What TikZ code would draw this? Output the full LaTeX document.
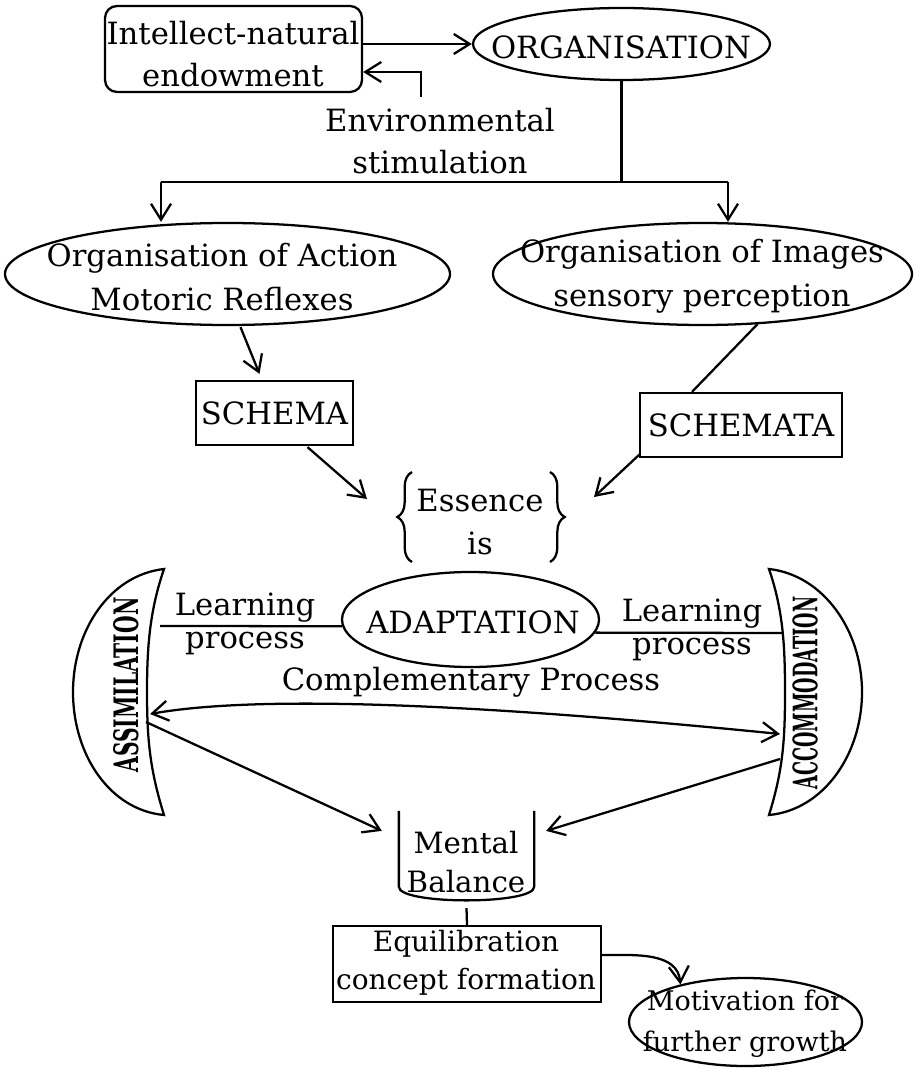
\documentclass[tikz,border=0pt]{standalone}
\usepackage{fontspec}
\setmainfont{DejaVu Serif}
\usepackage{graphicx}
\usetikzlibrary{arrows.meta,shapes.geometric,calc,decorations.pathreplacing}

\begin{document}
\begin{tikzpicture}[x=0.75pt,y=-0.75pt,
  line width=1.7pt,
  tip/.tip={Straight Barb[length=12pt,width=15pt]},
  arr/.style={-tip},
  darr/.style={tip-tip},
  txt/.style={align=center,inner sep=0pt,font=\fontsize{23}{31}\selectfont},
  small/.style={align=center,inner sep=0pt,font=\fontsize{20.3}{30.5}\selectfont},
  ell/.style={draw,ellipse,inner sep=0pt},
  box/.style={draw,rectangle,inner sep=0pt},
  side/.style={inner sep=0pt,rotate=90},
]
\useasboundingbox (0,0) rectangle (915,1069);

% ---- shapes ----
\node[box,rounded corners=9pt,minimum width=192.75pt,minimum height=64.5pt] (intel) at (233.5,49) {};
\node[ell,minimum width=222.75pt,minimum height=54pt] (org) at (621.5,44) {};
\node[ell,minimum width=333.75pt,minimum height=76.5pt] (orgA) at (227.5,274) {};
\node[ell,minimum width=314.25pt,minimum height=76.5pt] (orgI) at (702.5,274) {};
\node[box,minimum width=117.75pt,minimum height=48pt] (schema) at (274.5,413) {};
\node[box,minimum width=151.5pt,minimum height=48pt] (schemata) at (741,425) {};
\node[ell,minimum width=192.75pt,minimum height=71.25pt] (adapt) at (470.5,619.5) {};
\node[box,minimum width=201pt,minimum height=57pt] (equil) at (467,964) {};
\node[ell,minimum width=174.75pt,minimum height=66pt] (motiv) at (745.5,1022) {};
\node[inner sep=0pt,minimum width=99.75pt,minimum height=66pt] (mental) at (466.5,856) {};

% ---- texts ----
\node[txt] (inteltxt) at (233,54) {Intellect-natural\\endowment};
\node[txt,font=\fontsize{23}{32}\selectfont] (env) at (440,141) {Environmental\\stimulation};
\node[txt] (orgtxt) at (621,47) {ORGANISATION};
\node[txt,font=\fontsize{23}{33.5}\selectfont] (orgAtxt) at (222,277) {Organisation of Action\\Motoric Reflexes};
\node[txt,font=\fontsize{23}{33}\selectfont] (orgItxt) at (702,276) {Organisation of Images\\sensory perception};
\node[txt] (schematxt) at (schema) {SCHEMA};
\node[txt] (schematatxt) at (schemata) {SCHEMATA};
\node[txt,font=\fontsize{23}{32}\selectfont] (ess) at (480,522) {Essence\\is};
\node[txt] (adapttxt) at (473,622) {ADAPTATION};
\node[txt,font=\fontsize{23}{25}\selectfont] (lpLtxt) at (245,624) {Learning\\process};
\node[txt,font=\fontsize{23}{25}\selectfont] (lpRtxt) at (692,630) {Learning\\process};
\node[txt] (comp) at (471,682) {Complementary Process};
\node[txt,font=\fontsize{22}{29}\selectfont] (mentaltxt) at (466,862) {Mental\\Balance};
\node[txt,font=\fontsize{21}{28.5}\selectfont] (equiltxt) at (466,963) {Equilibration\\concept formation};
\node[small] (motivtxt) at (745,1024) {Motivation for\\further growth};

% ---- side crescents ----
\draw (164,569) .. controls (110,575) and (73,630) .. (73,692)
      .. controls (73,755) and (110,810) .. (164,815)
      .. controls (150,770) and (147,740) .. (147,692)
      .. controls (147,645) and (150,610) .. cycle;
\draw (769,569) .. controls (823,575) and (862,630) .. (862,692)
      .. controls (862,755) and (823,810) .. (769,815)
      .. controls (783,770) and (785,740) .. (785,692)
      .. controls (785,645) and (783,610) .. cycle;
\node[side] (assim) at (126,685) {\resizebox{131.25pt}{18.75pt}{\bfseries ASSIMILATION}};
\node[side] (accom) at (805,693) {\resizebox{144.75pt}{18.75pt}{\bfseries ACCOMMODATION}};

% ---- braces around the essence ----
\draw[decorate,decoration={brace,amplitude=11pt}] (412,562) -- (412,472);
\draw[decorate,decoration={brace,amplitude=11pt}] (550,472) -- (550,562);

% ---- mental balance outline ----
\draw (mental.north west) -- ++(0,76) .. controls ++(0,18) and ++(0,18) .. ($(mental.north east)+(0,76)$) -- (mental.north east);

% ---- connectors ----
\coordinate (fb) at (421,97);
\coordinate (brL) at (161,182);
\coordinate (brR) at (728,182);
\coordinate (essL) at (367,499);
\coordinate (essR) at (594,497);
\coordinate (lpL) at (160,626);
\coordinate (lpR) at (783,633);
\coordinate (cpL) at (150,714);
\coordinate (cpR) at (780,734);
\coordinate (asOut) at (146,722);
\coordinate (acOut) at (780,759);

\draw[arr] (intel.east |- org.west) -- (org.west);
\draw[arr] (fb) |- ($(intel.east)+(0,23)$);
\draw (org.south) -- (org.south |- brL);
\draw (brL) -- (brR);
\draw[arr] (brL) -- (brL |- orgA.north);
\draw[arr] (brR) -- (brR |- orgI.north);
\draw[arr] ($(orgA.south)+(13,1)$) -- ($(schema.north)+(-15,-6)$);
\draw ($(orgI.south)+(55,-2)$) -- ($(schemata.north)+(-49,0)$);
\draw[arr] ($(schema.south)+(33,1)$) -- (essL);
\draw[arr] ($(schemata.south west)+(1,-4)$) -- (essR);
\draw (lpL) -- (adapt.183);
\draw (adapt.-6) -- (lpR);
\draw[darr] (cpL) .. controls (240,698) and (420,698) .. (cpR);
\draw[arr] (asOut) -- ($(mental.north west)+(-17,20)$);
\draw[arr] (acOut) -- ($(mental.north east)+(12,20)$);
\draw ($(mental.south)+(0,7)$) -- (equil.north);
\draw[arr] ($(equil.east)+(0,-9)$) to[out=0,in=95] (motiv.150);
\end{tikzpicture}
\end{document}
